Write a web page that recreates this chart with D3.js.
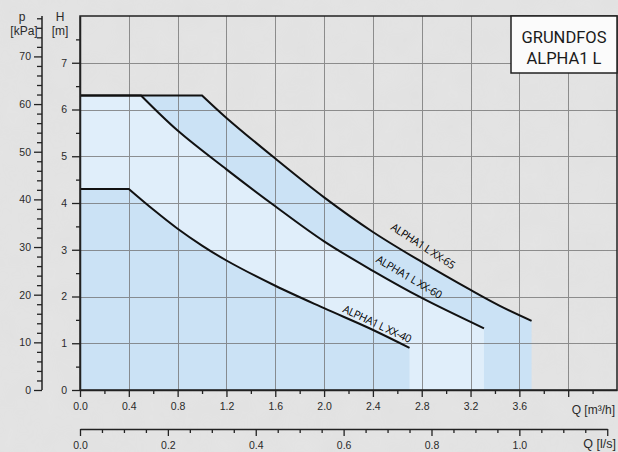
<!DOCTYPE html>
<html>
<head>
<meta charset="utf-8">
<script src="https://cdn.jsdelivr.net/npm/d3@7"></script>
<style>
  html, body { margin: 0; padding: 0; background: #e3e3e3; }
  svg { display: block; }
  text { font-family: "Liberation Sans", Arial, sans-serif; fill: #2a2a2a; }
</style>
</head>
<body>
<svg id="chart" width="618" height="452"></svg>
<script>
// ---- data ----
const q65 = [0, 1.0, 1.2, 1.6, 2.0, 2.4, 2.8, 3.2, 3.44, 3.7];
const h65 = [6.3, 6.3, 5.82, 4.95, 4.12, 3.38, 2.74, 2.14, 1.8, 1.48];
const q60 = [0, 0.5, 0.8, 1.2, 1.6, 2.0, 2.4, 2.8, 3.31];
const h60 = [6.3, 6.3, 5.55, 4.72, 3.93, 3.18, 2.55, 1.97, 1.32];
const q40 = [0, 0.4, 0.6, 0.8, 1.0, 1.2, 1.6, 2.0, 2.38, 2.7];
const h40 = [4.3, 4.3, 3.86, 3.45, 3.09, 2.77, 2.23, 1.75, 1.31, 0.9];
const seriesNames = ["ALPHA1 L XX-65", "ALPHA1 L XX-60", "ALPHA1 L XX-40"];

const qMajorTicks = [0.0, 0.4, 0.8, 1.2, 1.6, 2.0, 2.4, 2.8, 3.2, 3.6, 4.0];
const qMajorLabels = ["0.0","0.4","0.8","1.2","1.6","2.0","2.4","2.8","3.2","3.6",""];
const qMinorTicks = [0.2, 0.6, 1.0, 1.4, 1.8, 2.2, 2.6, 3.0, 3.4, 3.8, 4.2];
const lsMajorTicks = [0.0, 0.2, 0.4, 0.6, 0.8, 1.0, 1.2];
const lsMajorLabels = ["0.0","0.2","0.4","0.6","0.8","1.0",""];
const lsMinorTicks = [0.05,0.1,0.15,0.25,0.3,0.35,0.45,0.5,0.55,0.65,0.7,0.75,0.85,0.9,0.95,1.05,1.1,1.15];
const hMajorTicks = [0, 1, 2, 3, 4, 5, 6, 7];
const hMinorTicks = [0.5, 1.5, 2.5, 3.5, 4.5, 5.5, 6.5, 7.5];
const pMajorTicks = [0, 10, 20, 30, 40, 50, 60, 70];
const pMinorTicks = [2,4,6,8,12,14,16,18,22,24,26,28,32,34,36,38,42,44,46,48,52,54,56,58,62,64,66,68,72,74,76,78];
const titleLines = ["GRUNDFOS", "ALPHA1 L"];

// ---- layout ----
const svg = d3.select("#chart");
const L = 80, R = 617, T = 16, B = 390;
const x = d3.scaleLinear().domain([0, 4.4]).range([L, R]);
const y = d3.scaleLinear().domain([0, 8]).range([B, T]);
const yP = d3.scaleLinear().domain([0, 8 * 9.81]).range([B, T]);
const xLs = d3.scaleLinear().domain([0, 4.4 / 3.6]).range([L, R]);

// background texture
const defs = svg.append("defs");
const f = defs.append("filter").attr("id", "tex").attr("x", 0).attr("y", 0).attr("width", "100%").attr("height", "100%");
f.append("feTurbulence").attr("type", "fractalNoise").attr("baseFrequency", 0.035).attr("numOctaves", 3).attr("seed", 4);
f.append("feColorMatrix").attr("type", "matrix")
  .attr("values", "0 0 0 0 1  0 0 0 0 1  0 0 0 0 1  0 0 0 0.18 0");
svg.append("rect").attr("width", 618).attr("height", 452).attr("fill", "#e1e1e1");
svg.append("rect").attr("width", 618).attr("height", 452).attr("filter", "url(#tex)").attr("opacity", 0.6);

const zip = (qs, hs) => qs.map((q, i) => [q, hs[i]]);
const curveGen = d3.line().x(d => x(d[0])).y(d => y(d[1])).curve(d3.curveCatmullRom.alpha(0.5));
function curvePath(qs, hs) {
  const pts = zip(qs, hs);
  const flat = `M${x(pts[0][0])},${y(pts[0][1])}`;
  const rest = curveGen(pts.slice(1)).replace(/^M/, "L");
  return flat + rest;
}
function areaPath(qs, hs) {
  const last = qs[qs.length - 1];
  return `M${x(0)},${y(0)}L` + curvePath(qs, hs).slice(1) + `L${x(last)},${y(0)}Z`;
}

const medium = "#cbe2f5", light = "#e0eefa";
svg.append("path").attr("d", areaPath(q65, h65)).attr("fill", medium);
svg.append("path").attr("d", areaPath(q60, h60)).attr("fill", light);
svg.append("path").attr("d", areaPath(q40, h40)).attr("fill", medium);

// grid
const grid = svg.append("g").attr("stroke", "#6f6f6f").attr("stroke-width", 1).attr("opacity", 0.75);
qMajorTicks.slice(1).forEach(q => grid.append("line")
  .attr("x1", Math.round(x(q)) + 0.5).attr("x2", Math.round(x(q)) + 0.5).attr("y1", T).attr("y2", B));
hMajorTicks.slice(1).forEach(h => grid.append("line")
  .attr("x1", L).attr("x2", R).attr("y1", Math.round(y(h)) + 0.5).attr("y2", Math.round(y(h)) + 0.5));

// curves
[[q65, h65], [q60, h60], [q40, h40]].forEach(([qs, hs]) => {
  svg.append("path").attr("d", curvePath(qs, hs))
    .attr("fill", "none").attr("stroke", "#111").attr("stroke-width", 2);
});

// frame
svg.append("rect").attr("x", L).attr("y", T).attr("width", R - L).attr("height", B - T)
  .attr("fill", "none").attr("stroke", "#222").attr("stroke-width", 1.5);

// curve labels
const labelPos = [[423, 246, 33], [409, 277, 30.5], [377, 324, 25]];
seriesNames.forEach((name, i) => {
  const [lx, ly, a] = labelPos[i];
  svg.append("text").text(name)
    .attr("transform", `translate(${lx},${ly}) rotate(${a})`)
    .attr("text-anchor", "middle").attr("dy", "0.35em")
    .style("font-family", "'Open Sans', sans-serif").style("font-size", "10.8px").style("fill", "#000")
    .style("letter-spacing", "-0.4px");
});

// axis styling helper
function styleAxis(g) {
  g.select(".domain").attr("stroke", "#222").attr("stroke-width", 1.5);
  g.selectAll(".tick line").attr("stroke", "#222").attr("stroke-width", 1.3);
  g.selectAll("text").style("font-size", "10.5px").style("font-family", "'Liberation Sans', Arial, sans-serif").attr("fill", "#2a2a2a");
}

// bottom Q [m3/h] axis
const gx = svg.append("g").attr("transform", `translate(0,${B})`);
gx.call(d3.axisBottom(x).tickValues(qMajorTicks).tickSize(7).tickSizeOuter(0)
  .tickFormat((d, i) => qMajorLabels[i]).tickPadding(6));
gx.append("g").call(d3.axisBottom(x).tickValues(qMinorTicks).tickSize(4).tickSizeOuter(0).tickFormat(""))
  .select(".domain").remove();
styleAxis(gx);
svg.append("text").attr("x", 615).attr("y", 414).attr("text-anchor", "end")
  .style("font-size", "12px").html("Q [m³/h]");

// second Q [l/s] axis
const gls = svg.append("g").attr("transform", `translate(0,429)`);
const xLsAxis = d3.scaleLinear().domain([0, 1.2]).range([xLs(0), xLs(1.2)]);
gls.call(d3.axisBottom(xLsAxis).tickValues(lsMajorTicks).tickSize(7).tickSizeOuter(0)
  .tickFormat((d, i) => lsMajorLabels[i]).tickPadding(6));
gls.append("g").call(d3.axisBottom(xLsAxis).tickValues(lsMinorTicks).tickSize(4).tickSizeOuter(0).tickFormat(""))
  .select(".domain").remove();
styleAxis(gls);
svg.append("text").attr("x", 616).attr("y", 448).attr("text-anchor", "end")
  .style("font-size", "12.5px").text("Q [l/s]");

// H [m] axis
const gy = svg.append("g").attr("transform", `translate(${L},0)`);
gy.call(d3.axisLeft(y).tickValues(hMajorTicks).tickSize(8).tickSizeOuter(0).tickPadding(5));
gy.append("g").call(d3.axisLeft(y).tickValues(hMinorTicks).tickSize(4).tickSizeOuter(0).tickFormat(""))
  .select(".domain").remove();
styleAxis(gy);

// p [kPa] axis
const gp = svg.append("g").attr("transform", `translate(42,0)`);
gp.call(d3.axisLeft(yP).tickValues(pMajorTicks).tickSize(8).tickSizeOuter(0).tickPadding(3));
gp.append("g").call(d3.axisLeft(yP).tickValues(pMinorTicks).tickSize(5).tickSizeOuter(0).tickFormat(""))
  .select(".domain").remove();
styleAxis(gp);
gp.select(".domain").attr("d", `M0,${T}V${B}`);

// axis titles
svg.append("text").attr("x", 22).attr("y", 21).attr("text-anchor", "middle").style("font-size", "12px").text("p");
svg.append("text").attr("x", 24).attr("y", 35).attr("text-anchor", "middle").style("font-size", "12px").text("[kPa]");
svg.append("text").attr("x", 60).attr("y", 21).attr("text-anchor", "middle").style("font-size", "12px").text("H");
svg.append("text").attr("x", 60).attr("y", 35).attr("text-anchor", "middle").style("font-size", "12px").text("[m]");

// title box
svg.append("rect").attr("x", 511).attr("y", T).attr("width", R - 511).attr("height", 57)
  .attr("fill", "#fbfbfb").attr("stroke", "#222").attr("stroke-width", 1.5);
titleLines.forEach((t, i) => {
  svg.append("text").attr("x", 564).attr("y", 42.5 + i * 21).attr("text-anchor", "middle")
    .style("font-size", "16.5px").style("font-family", "Roboto, 'Liberation Sans', sans-serif").style("fill", "#1a1a1a").text(t);
});
</script>
</body>
</html>
